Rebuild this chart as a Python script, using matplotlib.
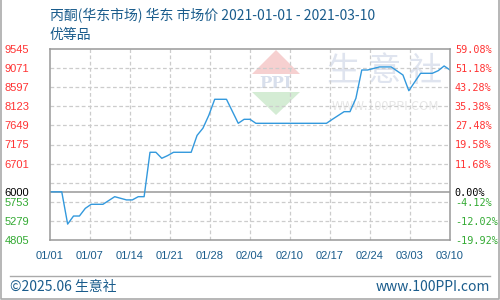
import matplotlib
matplotlib.use("Agg")
import matplotlib.pyplot as plt
from matplotlib.patches import Polygon
import numpy as np

plt.rcParams["font.family"] = ["Noto Sans CJK SC", "DejaVu Sans"]

# price data (date, price)
dates = ["01-01", "01-03", "01-04", "01-05", "01-06", "01-07", "01-08", "01-10",
         "01-12", "01-14", "01-15", "01-16", "01-17", "01-18", "01-19", "01-20",
         "01-21", "01-22", "01-25", "01-26", "01-27", "01-28", "01-29", "01-31",
         "02-02", "02-03", "02-04", "02-05", "02-17", "02-18", "02-20", "02-21",
         "02-22", "02-23", "02-24", "02-26", "02-28", "03-01", "03-02", "03-03",
         "03-05", "03-07", "03-08", "03-09", "03-10"]
prices = [6000, 6000, 5200, 5400, 5400, 5590, 5691, 5691,
          5880, 5800, 5800, 5880, 5880, 6982, 6982, 6833,
          6900, 6982, 6982, 7400, 7580, 7900, 8297, 8297,
          7701, 7800, 7800, 7701, 7701, 7800, 7990, 7990,
          8320, 9024, 9024, 9100, 9100, 9000, 8900, 8510,
          8942, 8942, 9007, 9124, 9024]

base = 6000
y_ticks = [4805 + 474 * k for k in range(11)]
y_labels = [4805, 5279, 5753, 6000, 6701, 7175, 7649, 8123, 8597, 9071, 9545]
x_labels = ["01/01", "01/07", "01/14", "01/21", "01/28", "02/04",
            "02/10", "02/17", "02/24", "03/03", "03/10"]

start = np.datetime64("2021-01-01")
days = [(np.datetime64("2021-" + d) - start).astype(int) for d in dates]
span = (np.datetime64("2021-03-10") - start).astype(int)

RED, GREEN, BLUE = "#ff3333", "#33aa33", "#1a5c8c"

fig = plt.figure(figsize=(5, 3), dpi=100)

# background layer in pixel coords: border, footer, watermark
bg = fig.add_axes([0, 0, 1, 1], zorder=0)
bg.set_xlim(0, 500)
bg.set_ylim(300, 0)
bg.axis("off")
bg.plot([0.7, 0.7, 499, 499], [0, 299, 299, 0], color="#aaaaaa", lw=1.2)
bg.plot([10, 490], [276, 276], color="#aaaaaa", lw=1)
bg.text(10, 287, "©2025.06 生意社", color=BLUE, fontsize=10, va="center")
bg.text(490, 287, "www.100PPI.com", color=BLUE, fontsize=10, va="center", ha="right")
bg.text(50, 16, "丙酮(华东市场) 华东 市场价 2021-01-01 - 2021-03-10",
        color=BLUE, fontsize=10, va="center")
bg.text(50, 35, "优等品", color=BLUE, fontsize=10, va="center")

# watermark
bg.add_patch(Polygon([[252, 74], [276, 50], [300, 74]], color="#f6d0d0", lw=0))
bg.add_patch(Polygon([[252, 92], [276, 115], [300, 92]], color="#d4ecd4", lw=0))
bg.text(276, 83, "PPI", color="#d8dfec", fontsize=12, fontweight="bold",
        ha="center", va="center", family="DejaVu Serif")
bg.text(385, 72, "生 意 社", color="#dfe4ef", fontsize=24, ha="center", va="center")
bg.text(385, 107, "WWW.100PPI.COM", color="#e6e6e6", fontsize=9, ha="center", va="center")

ax = fig.add_axes([0.1, 0.2, 0.8, 191 / 300], zorder=1)
ax.set_facecolor("none")
ax.set_xlim(0, span)
ax.set_ylim(y_ticks[0], y_ticks[-1])

for y in y_ticks[1:-1]:
    ax.axhline(y, color="#cccccc", lw=0.9, ls=(0, (3, 2)))
xt = np.linspace(0, span, 11)
for x in xt[1:-1]:
    ax.axvline(x, color="#cccccc", lw=0.9, ls=(0, (3, 2)))
ax.axhline(base, color="#999999", lw=1.1)

ax.plot(days, prices, color="#3399dd", lw=1.0)

for s in ax.spines.values():
    s.set_color("#999999")
    s.set_linewidth(1.1)

ax.set_xticks(xt)
ax.set_xticklabels(x_labels, fontsize=8, color=BLUE, family="Liberation Sans")
ax.tick_params(axis="x", length=0, pad=8)

def col(v):
    return RED if v > base else (GREEN if v < base else "black")

ax.set_yticks(y_labels)
ax.set_yticklabels([str(v) for v in y_labels], fontsize=8, family="Liberation Sans")
ax.tick_params(axis="y", length=0, pad=32.5)
for lab, v in zip(ax.get_yticklabels(), y_labels):
    lab.set_horizontalalignment("left")
    lab.set_color(col(v))

ax2 = ax.twinx()
ax2.set_ylim(ax.get_ylim())
ax2.set_yticks(y_labels)
ax2.set_yticklabels(["%.2f%%" % ((v - base) / base * 100) for v in y_labels],
                    fontsize=7.3, family="DejaVu Sans Mono")
ax2.tick_params(axis="y", length=0, pad=3.5)
for lab, v in zip(ax2.get_yticklabels(), y_labels):
    lab.set_color(col(v))
for s in ax2.spines.values():
    s.set_visible(False)

fig.savefig("out.png", dpi=100, facecolor="white")
